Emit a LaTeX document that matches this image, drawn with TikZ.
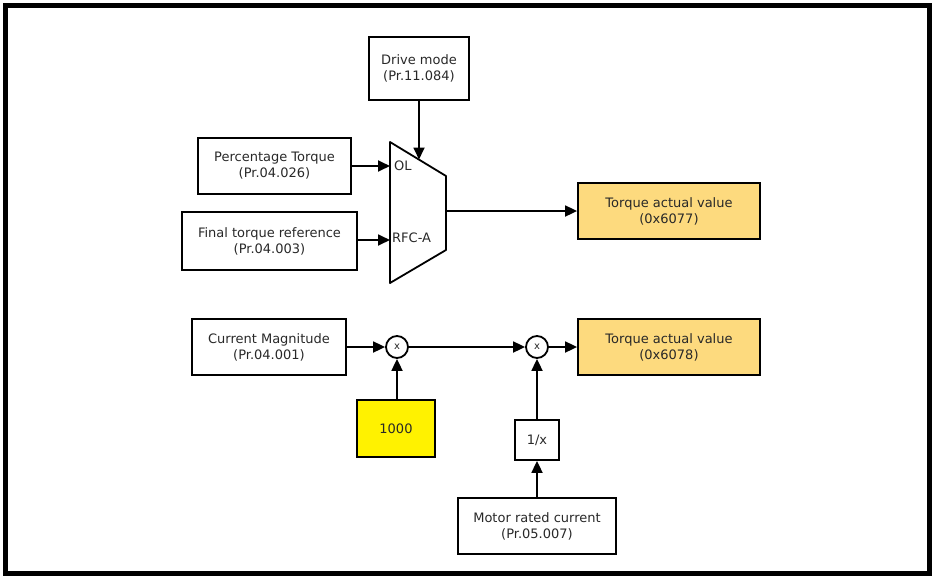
\documentclass[tikz,border=0pt]{standalone}
\usepackage{fontspec}
\setmainfont{DejaVu Sans}
\usetikzlibrary{arrows.meta,shapes.geometric}
\definecolor{tav}{RGB}{253,218,126}
\definecolor{txt}{RGB}{40,40,40}
\begin{document}
\begin{tikzpicture}[x=1pt,y=-1pt,
  box/.style={draw=black,line width=1.8pt,rectangle,align=center,text=txt,
    font=\fontsize{13}{16}\selectfont,inner sep=0pt},
  mult/.style={draw=black,line width=1.8pt,circle,minimum size=22pt,inner sep=0pt,
    font=\fontsize{10}{12}\selectfont,text=txt},
  arr/.style={line width=1.8pt,-{Triangle[length=12pt,width=11pt]}},
  lbl/.style={font=\fontsize{13}{16}\selectfont,text=txt,inner sep=0pt}]
\useasboundingbox (0,0) rectangle (932,576);
\draw[line width=5pt] (5.5,5.5) rectangle (929.5,573.5);
% top part
\node[box,minimum width=100pt,minimum height=63pt] (dm) at (419,68.5) {Drive mode\\(Pr.11.084)};
\node[box,minimum width=153pt,minimum height=56pt] (pt) at (274.5,166) {Percentage Torque\\(Pr.04.026)};
\node[box,minimum width=175pt,minimum height=58pt] (ftr) at (269.5,241) {Final torque reference\\(Pr.04.003)};
\draw[line width=1.8pt,line join=round] (390,142) -- (446,176) -- (446,250) -- (390,283) -- cycle;
\coordinate (muxol) at (390,166);
\coordinate (muxrfc) at (390,240);
\coordinate (muxtop) at (419,159.5);
\coordinate (muxout) at (446,211);
\node[lbl,anchor=west] (ol) at (394,166) {OL};
\node[lbl,anchor=west] (rfc) at (392,238) {RFC-A};
\node[box,fill=tav,minimum width=182pt,minimum height=56pt] (tav1) at (669,211) {Torque actual value\\(0x6077)};
\draw[arr] (dm) -- (muxtop);
\draw[arr] (pt) -- (muxol);
\draw[arr] (ftr.east |- muxrfc) -- (muxrfc);
\draw[arr] (muxout) -- (tav1);
% bottom part
\node[box,minimum width=154pt,minimum height=56pt] (cm) at (269,347) {Current Magnitude\\(Pr.04.001)};
\node[mult] (m1) at (397,347) {x};
\node[box,fill=yellow,minimum width=78pt,minimum height=57pt] (k) at (396,428.5) {1000};
\node[mult] (m2) at (537,347) {x};
\node[box,fill=tav,minimum width=182pt,minimum height=56pt] (tav2) at (669,347) {Torque actual value\\(0x6078)};
\node[box,minimum width=44pt,minimum height=40pt] (inv) at (537,440) {1/x};
\node[box,minimum width=158pt,minimum height=56pt] (mrc) at (537,526) {Motor rated current\\(Pr.05.007)};
\draw[arr] (cm) -- (m1);
\draw[arr] (k.north -| m1) -- (m1);
\draw[arr] (m1) -- (m2);
\draw[arr] (m2) -- (tav2);
\draw[arr] (inv) -- (m2);
\draw[arr] (mrc) -- (inv);
\end{tikzpicture}
\end{document}
